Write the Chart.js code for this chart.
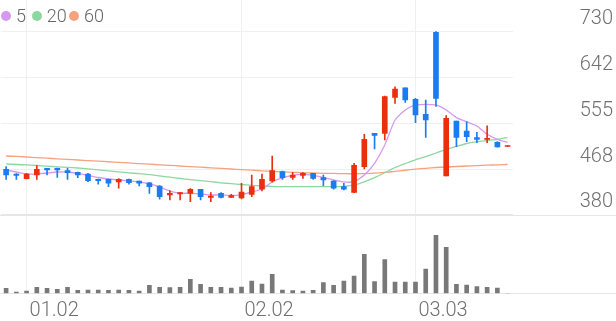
<!DOCTYPE html>
<html><head><meta charset="utf-8">
<script src="https://cdn.jsdelivr.net/npm/chart.js@4.4.0/dist/chart.umd.min.js"></script>
<style>
html,body{margin:0;padding:0;background:#fff;}
#wrap{position:relative;width:616px;height:321px;overflow:hidden;}
#c{position:absolute;left:0;top:0;}
.lg{position:absolute;top:5px;height:22px;line-height:22px;font-family:Roboto,'Noto Sans',sans-serif;font-weight:300;font-size:18px;color:#666;white-space:nowrap;}
.lg i{position:absolute;left:0;top:6px;width:10px;height:10px;border-radius:50%;}
.lg span{position:absolute;top:0;}
</style></head>
<body><div id="wrap"><canvas id="c" width="616" height="321"></canvas>
<div class="lg" id="lg0" style="left:1px"></div>
<div class="lg" id="lg1" style="left:31.7px"></div>
<div class="lg" id="lg2" style="left:69px"></div>
</div>
<script>
const dates = ['12.29','12.30','01.02','01.05','01.06','01.07','01.08','01.09','01.12','01.13','01.14','01.15','01.16','01.19','01.20','01.21','01.22','01.23','01.26','01.27','01.28','01.29','01.30','02.02','02.03','02.04','02.05','02.06','02.09','02.10','02.11','02.12','02.13','02.19','02.20','02.23','02.24','02.25','02.26','02.27','03.03','03.04','03.05','03.06','03.09','03.10','03.11','03.12','03.13','03.16'];
const xTickLabels = ['01.02','02.02','03.03'];
const priceTicks = [380.4, 467.7, 555, 642.3, 729.6];

const openP  = [467.5,458.5,449.5,456.6,469.4,469.4,464.8,461.7,458.5,448.4,448.4,443.3,448.4,445.2,441.9,435.6,418.5,420.4,421.7,429.4,414.1,421.7,414.1,412.8,419.8,429.4,445.2,462.9,452.2,456.0,459.8,451.5,445.2,434.3,423.3,472.4,536.0,536.0,604.6,622.9,600.8,572.2,728.5,454.7,559.5,540.4,527.7,524.6,518.9,510.9];
const closeP = [456.6,456.0,458.5,467.5,466.1,466.1,461.0,456.6,445.8,445.8,440.8,448.4,441.9,440.8,434.3,415.3,421.7,422.9,429.4,415.3,416.6,414.1,417.2,424.2,434.3,448.4,464.8,451.5,456.6,459.8,450.3,447.1,431.3,429.4,475.1,524.6,532.2,605.8,620.4,599.5,570.9,561.4,602.7,564.6,528.4,529.6,524.6,526.5,509.9,510.9];
const highP  = [472.4,459.5,459.8,474.3,469.4,470.0,469.4,462.3,459.8,449.0,449.0,449.6,449.0,445.2,442.7,436.2,426.7,422.9,430.5,429.4,422.9,422.9,419.8,440.8,456.6,458.5,492.8,464.2,461.7,461.0,459.8,456.6,446.1,440.8,478.9,534.1,536.0,607.1,624.8,622.9,602.7,599.5,729.6,569.6,559.5,558.1,537.9,550.5,520.4,510.9];
const lowP   = [448.4,448.4,449.0,448.4,456.6,452.2,448.4,451.5,443.8,438.9,434.3,431.3,438.9,435.6,421.7,410.3,409.0,409.0,405.7,409.0,405.7,412.8,414.1,410.9,415.3,426.1,442.7,448.4,448.4,450.3,448.4,436.2,429.4,428.0,422.9,468.0,506.1,523.3,593.2,595.1,556.2,528.4,587.1,454.7,510.5,520.0,518.1,518.1,509.4,510.9];
const ma5  = [466.1,462.3,458.5,458.5,460.4,462.3,462.3,459.5,455.7,451.8,449.0,447.1,445.2,443.3,439.5,433.7,426.1,422.3,421.7,420.4,418.5,418.5,417.6,419.4,424.2,429.9,443.3,450.9,455.7,457.6,455.7,451.8,447.1,443.3,443.8,456.6,478.9,513.8,561.4,580.4,590.0,591.3,590.0,580.4,565.8,558.1,550.0,534.1,524.6,518.5];
const ma20 = [477.6,476.6,475.7,474.7,473.4,472.2,471.1,469.9,468.4,466.5,464.6,462.7,460.8,459.1,457.4,454.9,452.4,449.9,447.7,445.7,443.8,441.7,440.0,438.5,437.0,435.6,434.7,434.3,434.3,434.3,434.3,434.3,434.3,435.1,437.6,443.6,451.5,460.8,470.9,478.5,485.6,491.8,498.5,505.2,510.9,516.6,520.0,522.3,524.6,528.0];
const ma60 = [492.8,491.9,490.9,489.8,488.6,487.5,486.3,485.2,484.0,482.9,481.8,480.6,479.5,478.3,477.2,476.0,474.9,473.7,472.6,471.5,470.3,469.2,468.0,466.9,465.7,464.6,463.7,462.7,461.7,461.0,460.4,459.8,459.5,459.1,458.9,459.3,460.0,461.4,463.3,465.6,467.7,469.4,470.9,471.8,472.8,473.7,474.5,475.3,476.0,476.6];
const volume = [50,13,23,60,50,40,60,30,33,33,30,33,30,23,80,60,57,60,140,90,60,60,53,63,123,93,190,33,27,23,30,107,80,123,173,390,117,337,113,113,113,243,580,460,90,83,67,60,53,0];

const maLabels = ['5','20','60'];
const maColors = ['#d699f0','#8dd89f','#f6a27e'];
const UP = '#e8300f', DOWN = '#1a7cf0';

const bodyData = openP.map((o,i)=>[o, closeP[i]]);
const wickData = lowP.map((l,i)=>[l, highP[i]]);
const candleColors = openP.map((o,i)=> closeP[i] >= o ? UP : DOWN);

maLabels.forEach((t,i)=>{
  const el = document.getElementById('lg'+i);
  el.innerHTML = '<i style="background:'+maColors[i]+'"></i><span style="left:15px">'+t+'</span>';
});

const gridCol = '#f0f0f0';
const fullLines = {
  id:'fullLines',
  beforeDatasetsDraw(chart){
    const {ctx, chartArea, scales} = chart;
    const ys = [scales.y.getPixelForValue(priceTicks[0]), chartArea.bottom];
    ctx.save();
    ctx.strokeStyle = '#e6e6e6'; ctx.lineWidth = 1;
    ys.forEach(p=>{ const yy = Math.round(p)+0.5; ctx.beginPath(); ctx.moveTo(0,yy); ctx.lineTo(chart.width,yy); ctx.stroke(); });
    ctx.restore();
  }
};
const noPad = (s)=>{ s.paddingTop = 0; s.paddingBottom = 0; s.paddingLeft = 0; s.paddingRight = 0; };

const fontFam = "Roboto, 'Noto Sans', sans-serif";
new Chart(document.getElementById('c'), {
  type:'bar',
  data:{
    labels: dates,
    datasets:[
      {type:'bar', label:'body', data: bodyData, backgroundColor: candleColors, barThickness:5, grouped:false, minBarLength:1, yAxisID:'y', order:0},
      {type:'bar', label:'wick', data: wickData, backgroundColor: candleColors, barThickness:1, grouped:false, minBarLength:1, yAxisID:'y', order:1},
      {type:'line', label:maLabels[0], data: ma5, borderColor: maColors[0], borderWidth:1.3, pointRadius:0, tension:0.2, yAxisID:'y', order:2},
      {type:'line', label:maLabels[1], data: ma20, borderColor: maColors[1], borderWidth:1.3, pointRadius:0, tension:0.2, yAxisID:'y', order:2},
      {type:'line', label:maLabels[2], data: ma60, borderColor: maColors[2], borderWidth:1.3, pointRadius:0, tension:0.2, yAxisID:'y', order:2},
      {type:'bar', label:'volume', data: volume, backgroundColor:'#787878', barThickness:4, grouped:false, yAxisID:'yv', order:3}
    ]
  },
  options:{
    responsive:false, animation:false,
    layout:{padding:{left:1, right:3, top:0, bottom:1.7}},
    plugins:{legend:{display:false}, tooltip:{enabled:false}},
    scales:{
      x:{
        offset:true,
        border:{display:false},
        afterFit: (s)=>{ noPad(s); s.height = 26; },
        grid:{offset:false, drawTicks:false, color:(c)=> (c.tick && xTickLabels.includes(dates[c.index])) ? gridCol : 'rgba(0,0,0,0)'},
        ticks:{autoSkip:false, maxRotation:0, minRotation:0, align:'start', labelOffset:3, padding:6,
          color:'#707070', font:{family:fontFam, size:20, weight:'300'},
          callback:function(v,i){ return xTickLabels.includes(dates[i]) ? dates[i] : ''; }}
      },
      y:{
        position:'right', min:231.2, max:790,
        border:{display:false},
        afterFit: noPad,
        afterBuildTicks:(s)=>{ s.ticks = priceTicks.map(v=>({value:v})); },
        grid:{drawTicks:true, tickLength:67, tickColor:'rgba(0,0,0,0)', color:(c)=> (c.tick && c.tick.value === priceTicks[0]) ? '#e6e6e6' : gridCol},
        ticks:{crossAlign:'far', padding:0, labelOffset:-12.6, color:'#707070',
          font:{family:fontFam, size:20, weight:'300'},
          callback:(v)=> String(Math.round(v))}
      },
      yv:{display:false, min:0, max:2933}
    }
  },
  plugins:[fullLines]
});
</script>
</body></html>
